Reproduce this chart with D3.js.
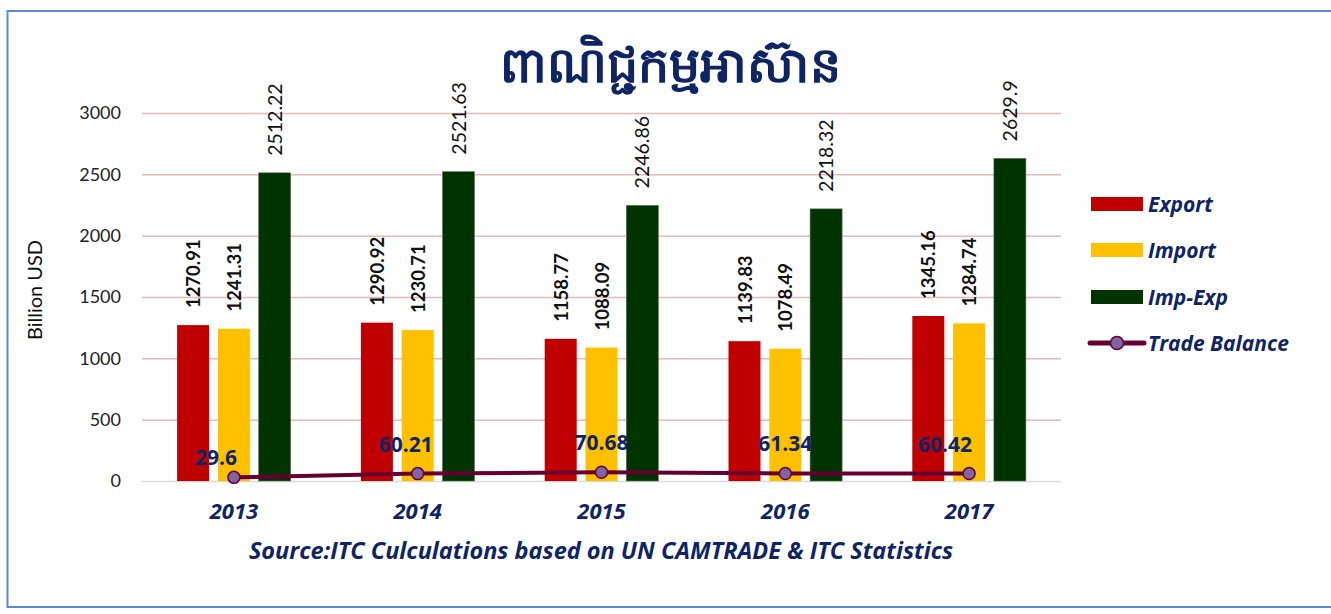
<!DOCTYPE html>
<html>
<head>
<meta charset="utf-8">
<script src="https://cdn.jsdelivr.net/npm/d3@7"></script>
<style>
  body { margin: 0; background: #fff; }
</style>
</head>
<body>
<div id="chart"></div>
<script>
const years = ["2013", "2014", "2015", "2016", "2017"];
const exportVals = [1270.91, 1290.92, 1158.77, 1139.83, 1345.16];
const importVals = [1241.31, 1230.71, 1088.09, 1078.49, 1284.74];
const impExpVals = [2512.22, 2521.63, 2246.86, 2218.32, 2629.9];
const balanceVals = [29.6, 60.21, 70.68, 61.34, 60.42];
const yTicks = [0, 500, 1000, 1500, 2000, 2500, 3000];

const seriesNames = ["Export", "Import", "Imp-Exp"];
const seriesColors = { "Export": "#C00000", "Import": "#FFC000", "Imp-Exp": "#003300" };
const navy = "#0F2464";
const navyFont = "'Open Sans', Lato, sans-serif";

const width = 1331, height = 614;
const margin = {top: 113, right: 270, bottom: 133, left: 142};
const graphWidth = width - margin.left - margin.right;
const graphHeight = height - margin.top - margin.bottom;

const svg = d3.select("#chart").append("svg")
  .attr("width", width).attr("height", height)
  .attr("font-family", "Lato, 'Noto Sans', sans-serif");

// outer frame
svg.append("rect")
  .attr("x", 7.5).attr("y", 11).attr("width", 1330).attr("height", 596)
  .attr("fill", "none").attr("stroke", "#5B8BD0").attr("stroke-width", 2);

const graph = svg.append("g").attr("transform", `translate(${margin.left},${margin.top})`);

const xScale = d3.scaleBand().domain(years).range([0, graphWidth]);
const yScale = d3.scaleLinear().domain([0, 3000]).range([graphHeight, 0]);
const barW = 32, barGap = 8.8;
const xInner = d3.scaleBand().domain(seriesNames)
  .range([0, barW * 3 + barGap * 2]).paddingInner(barGap / (barW + barGap));

// grid
const yAxis = graph.append("g")
  .call(d3.axisLeft(yScale).tickValues(yTicks).tickFormat(d3.format("d"))
    .tickSize(-graphWidth).tickPadding(21));
yAxis.attr("font-family", null);
yAxis.select(".domain").remove();
yAxis.selectAll(".tick line")
  .attr("stroke", d => d === 0 ? "#D9D9D9" : "#E6B9B8").attr("stroke-width", 1.5);
yAxis.selectAll(".tick text")
  .attr("font-size", 18).attr("fill", "#222");

// bars
const groupOffset = (xScale.bandwidth() - (barW * 3 + barGap * 2)) / 2;
const bars = [];
years.forEach((y, i) => {
  bars.push({year: y, key: "Export", value: exportVals[i]});
  bars.push({year: y, key: "Import", value: importVals[i]});
  bars.push({year: y, key: "Imp-Exp", value: impExpVals[i]});
});

graph.selectAll("rect.bar").data(bars).enter()
  .append("rect")
  .attr("class", "bar")
  .attr("x", d => xScale(d.year) + groupOffset + xInner(d.key))
  .attr("y", d => yScale(d.value))
  .attr("width", xInner.bandwidth())
  .attr("height", d => graphHeight - yScale(d.value))
  .attr("fill", d => seriesColors[d.key])
  .attr("stroke", d => d.key === "Imp-Exp" ? "#5A6E5A" : "none")
  .attr("stroke-width", 0.6);

// bar value labels
graph.selectAll("text.barlabel").data(bars).enter()
  .append("text")
  .attr("class", "barlabel")
  .attr("transform", d => {
    const cx = xScale(d.year) + groupOffset + xInner(d.key) + xInner.bandwidth() / 2;
    return `translate(${cx + 7},${yScale(d.value) - 17}) rotate(-90)`;
  })
  .attr("font-size", d => d.key === "Imp-Exp" ? 19.5 : 18.5)
  .attr("font-weight", d => d.key === "Imp-Exp" ? "normal" : "bold")
  .attr("fill", "#111")
  .text(d => d.value);

// trade balance line
const bx = i => xScale(years[i]) + xScale.bandwidth() / 2;
const line = d3.line().x((d, i) => bx(i)).y(d => yScale(d));
graph.append("path")
  .datum(balanceVals)
  .attr("d", line)
  .attr("fill", "none")
  .attr("stroke", "#660033")
  .attr("stroke-width", 4);
graph.selectAll("circle.bal").data(balanceVals).enter()
  .append("circle")
  .attr("cx", (d, i) => bx(i))
  .attr("cy", d => yScale(d))
  .attr("r", 6)
  .attr("fill", "#8064A2")
  .attr("stroke", "#660033")
  .attr("stroke-width", 1.5);

const balLabelDx = [-18, -12, 0, 0, -24];
graph.selectAll("text.ballabel").data(balanceVals).enter()
  .append("text")
  .attr("x", (d, i) => bx(i) + balLabelDx[i])
  .attr("y", (d, i) => yScale(d) - (i === 0 ? 12 : 22))
  .attr("text-anchor", "middle")
  .attr("font-family", navyFont)
  .attr("font-size", 21)
  .attr("font-weight", "bold")
  .attr("fill", navy)
  .text(d => d);

// x axis labels
graph.selectAll("text.year").data(years).enter()
  .append("text")
  .attr("x", d => xScale(d) + xScale.bandwidth() / 2)
  .attr("y", graphHeight + 38)
  .attr("text-anchor", "middle")
  .attr("font-family", navyFont)
  .attr("font-size", 22)
  .attr("font-weight", "bold")
  .attr("font-style", "italic")
  .attr("fill", navy)
  .text(d => d);

// y axis title
svg.append("text")
  .attr("transform", "translate(42,290) rotate(-90)")
  .attr("text-anchor", "middle")
  .attr("font-size", 20)
  .attr("fill", "#111")
  .text("Billion USD");

// title
svg.append("text")
  .attr("x", 670).attr("y", 82)
  .attr("text-anchor", "middle")
  .attr("font-size", 49)
  .attr("font-weight", "bold")
  .attr("fill", navy)
  .text("ពាណិជ្ជកម្មអាស៊ាន");

// source
svg.append("text")
  .attr("x", 601).attr("y", 559)
  .attr("text-anchor", "middle")
  .attr("font-family", navyFont)
  .attr("font-size", 23.5)
  .attr("font-weight", "bold")
  .attr("font-style", "italic")
  .attr("fill", navy)
  .text("Source:ITC Culculations based on UN CAMTRADE & ITC Statistics");

// legend
const legend = svg.append("g").attr("transform", "translate(1091,0)");
const legendY = [204, 250, 297, 343];
seriesNames.forEach((name, i) => {
  legend.append("rect")
    .attr("x", 0).attr("y", legendY[i] - 7)
    .attr("width", 52).attr("height", 14)
    .attr("fill", seriesColors[name]);
  legend.append("text")
    .attr("x", 57).attr("y", legendY[i] + 7.5)
    .attr("font-family", navyFont)
    .attr("font-size", 21).attr("font-weight", "bold").attr("font-style", "italic")
    .attr("fill", navy)
    .text(name);
});
legend.append("line")
  .attr("x1", -1).attr("x2", 53).attr("y1", legendY[3]).attr("y2", legendY[3])
  .attr("stroke", "#660033").attr("stroke-width", 5).attr("stroke-linecap", "round");
legend.append("circle")
  .attr("cx", 26).attr("cy", legendY[3]).attr("r", 6.5)
  .attr("fill", "#8064A2").attr("stroke", "#660033").attr("stroke-width", 1.5);
legend.append("text")
  .attr("x", 57).attr("y", legendY[3] + 7.5)
  .attr("font-family", navyFont)
  .attr("font-size", 21).attr("font-weight", "bold").attr("font-style", "italic")
  .attr("fill", navy)
  .text("Trade Balance");
</script>
</body>
</html>
